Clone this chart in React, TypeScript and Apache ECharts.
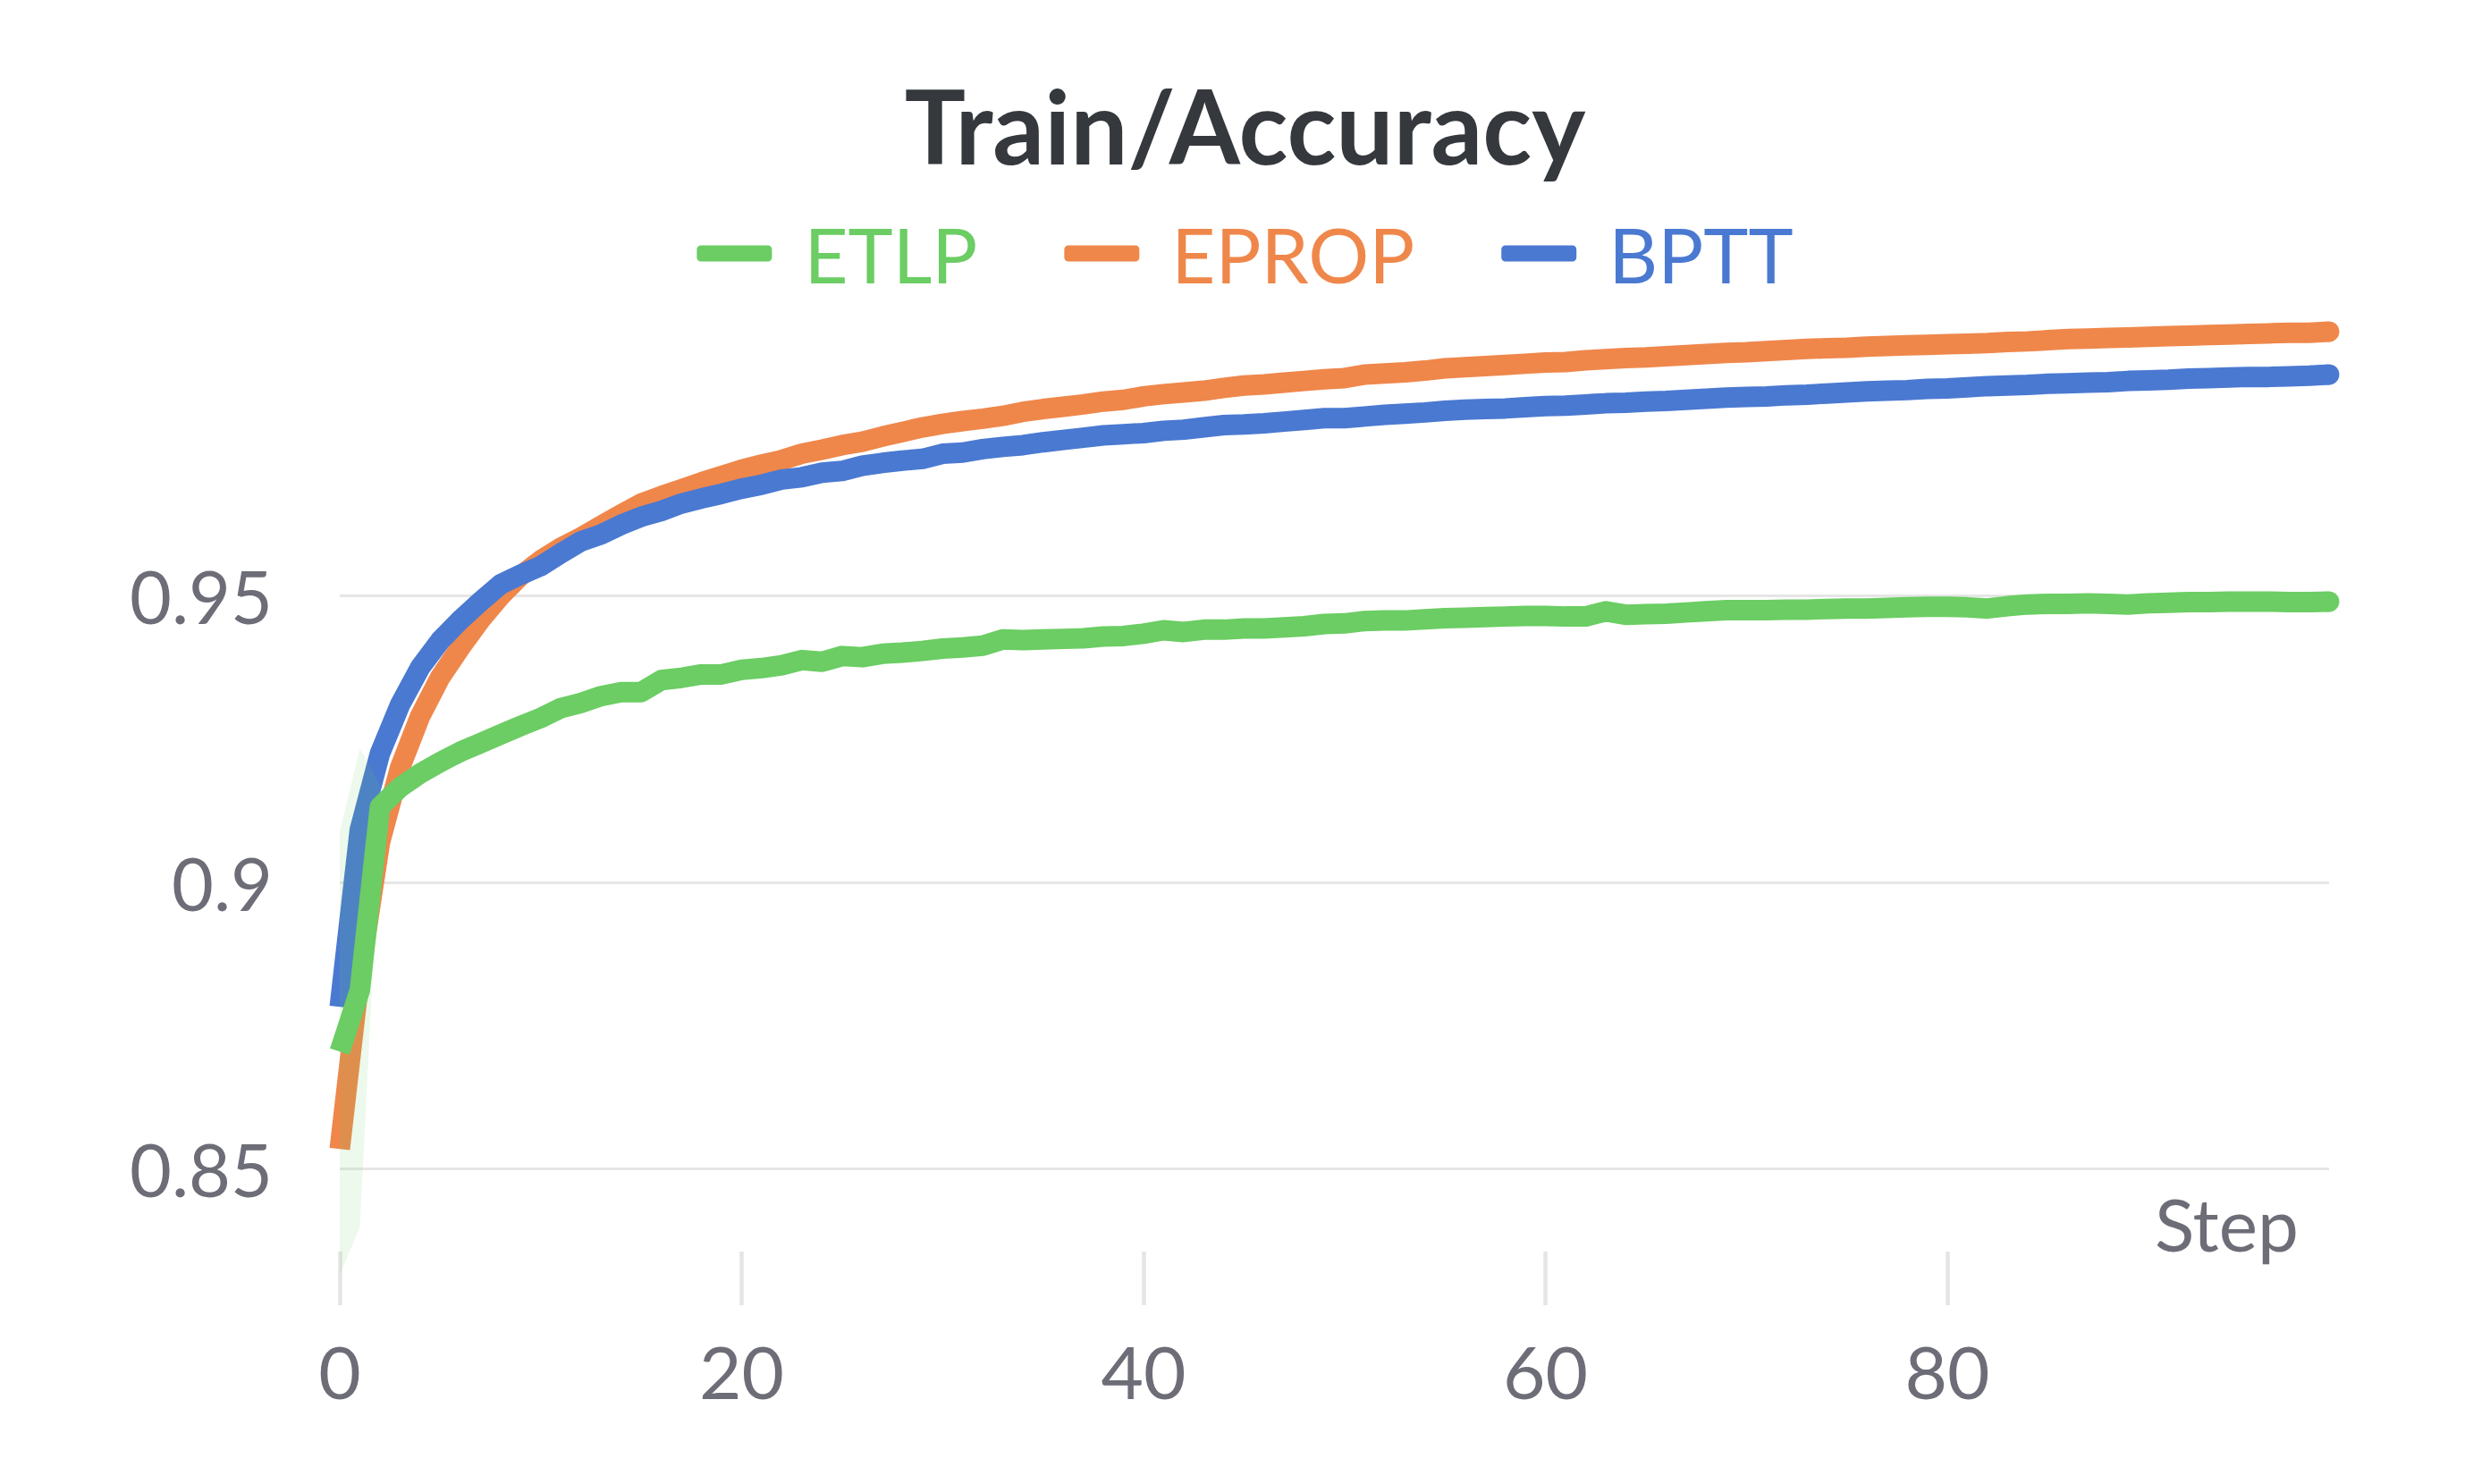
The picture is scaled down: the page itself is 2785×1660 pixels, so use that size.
import React, { useEffect, useRef } from "react";
import * as echarts from "echarts";

// ---------- data ----------
const STEPS: number[] = Array.from({ length: 100 }, (_, i) => i);

const ETLP: number[] = [
  0.8705, 0.8812, 0.9132, 0.9166, 0.919, 0.921, 0.9228, 0.9243, 0.9258, 0.9273,
  0.9287, 0.9304, 0.9313, 0.9325, 0.9332, 0.9332, 0.9353, 0.9357, 0.9363, 0.9363,
  0.9371, 0.9374, 0.9379, 0.9388, 0.9385, 0.9395, 0.9393, 0.9399, 0.9401, 0.9404,
  0.9408, 0.941, 0.9413, 0.9424, 0.9423, 0.9424, 0.9425, 0.9426, 0.9429, 0.943,
  0.9434, 0.944, 0.9437, 0.9441, 0.9441, 0.9443, 0.9443, 0.9445, 0.9447, 0.9451,
  0.9452, 0.9456, 0.9457, 0.9457, 0.9459, 0.9461, 0.9462, 0.9463, 0.9464, 0.9465,
  0.9465, 0.9464, 0.9464, 0.9473, 0.9467, 0.9468, 0.9469, 0.9471, 0.9473, 0.9475,
  0.9475, 0.9475, 0.9476, 0.9476, 0.9477, 0.9478, 0.9478, 0.9479, 0.948, 0.9481,
  0.9481, 0.948, 0.9478, 0.9482, 0.9485, 0.9486, 0.9486, 0.9487, 0.9486, 0.9485,
  0.9487, 0.9488, 0.9489, 0.9489, 0.949, 0.949, 0.949, 0.9489, 0.9489, 0.949,
];

const EPROP: number[] = [
  0.8535, 0.884, 0.907, 0.92, 0.929, 0.9358, 0.941, 0.9458, 0.95, 0.9535,
  0.9562, 0.9584, 0.9602, 0.9622, 0.9642, 0.9661, 0.9674, 0.9686, 0.9698, 0.9709,
  0.972, 0.9729, 0.9737, 0.9748, 0.9755, 0.9763, 0.9769, 0.9778, 0.9786, 0.9794,
  0.98, 0.9805, 0.9809, 0.9814, 0.9821, 0.9826, 0.983, 0.9834, 0.9839, 0.9842,
  0.9848, 0.9852, 0.9855, 0.9858, 0.9863, 0.9867, 0.9869, 0.9872, 0.9875, 0.9878,
  0.988, 0.9886, 0.9888, 0.989, 0.9893, 0.9897, 0.9899, 0.9901, 0.9903, 0.9905,
  0.9907, 0.9908, 0.9911, 0.9913, 0.9915, 0.9916, 0.9918, 0.992, 0.9922, 0.9924,
  0.9925, 0.9927, 0.9929, 0.9931, 0.9932, 0.9933, 0.9935, 0.9936, 0.9937, 0.9938,
  0.9939, 0.994, 0.9941, 0.9943, 0.9944, 0.9946, 0.9948, 0.9949, 0.995, 0.9951,
  0.9952, 0.9953, 0.9954, 0.9955, 0.9956, 0.9957, 0.9958, 0.9959, 0.9959, 0.9961,
];

const BPTT: number[] = [
  0.8783, 0.9092, 0.9225, 0.931, 0.9375, 0.9422, 0.9458, 0.949, 0.952, 0.9537,
  0.9552, 0.9574, 0.9595, 0.9607, 0.9624, 0.9638, 0.9648, 0.9661, 0.967, 0.9678,
  0.9687, 0.9694, 0.9703, 0.9707, 0.9715, 0.9718, 0.9727, 0.9732, 0.9736, 0.9739,
  0.9748, 0.975, 0.9756, 0.976, 0.9763, 0.9768, 0.9772, 0.9776, 0.978, 0.9782,
  0.9784, 0.9788, 0.979, 0.9794, 0.9798, 0.9799, 0.9801, 0.9804, 0.9807, 0.981,
  0.981, 0.9813, 0.9816, 0.9818, 0.982, 0.9823, 0.9825, 0.9826, 0.9827, 0.9829,
  0.9831, 0.9832, 0.9834, 0.9836, 0.9837, 0.9839, 0.984, 0.9842, 0.9844, 0.9846,
  0.9847, 0.9848, 0.985, 0.9851, 0.9853, 0.9855, 0.9857, 0.9858, 0.9859, 0.9861,
  0.9862, 0.9864, 0.9866, 0.9867, 0.9868, 0.987, 0.9871, 0.9872, 0.9873, 0.9875,
  0.9876, 0.9877, 0.9879, 0.988, 0.9881, 0.9882, 0.9882, 0.9883, 0.9884, 0.9886,
];

// min/max band of the ETLP run group (only visible over the first steps)
const ETLP_BAND_STEPS: number[] = [0, 1, 2];
const ETLP_BAND_LOW: number[] = [0.8316, 0.8398, 0.909];
const ETLP_BAND_HIGH: number[] = [0.9088, 0.9234, 0.917];

const X_TICKS: number[] = [0, 20, 40, 60, 80];
const Y_TICKS: number[] = [0.85, 0.9, 0.95];
const SERIES_NAMES: string[] = ["ETLP", "EPROP", "BPTT"];

const Y_MIN = 0.8356;
const Y_MAX = 0.9975;
const X_MIN = 0;
const X_MAX = 99;

// ---------- styles ----------
const COLORS: Record<string, string> = {
  ETLP: "#6bcd63",
  EPROP: "#ef874b",
  BPTT: "#4a79d1",
};
const BAND_FILL = "rgba(108,205,99,0.12)";
const FONT = "Lato, 'Noto Sans', 'DejaVu Sans', sans-serif";
const AXIS_GRAY = "#6d6d78";
const GRID_GRAY = "#e6e6e6";
const LINE_W = 23;

function lineSeries(name: string, values: number[], z: number) {
  const last = values.length - 1;
  return {
    name,
    type: "line",
    z,
    data: values.map((v, i) => [STEPS[i], v]),
    symbol: "circle",
    showSymbol: true,
    showAllSymbol: true,
    symbolSize: (_v: any, p: any) => (p.dataIndex === last ? LINE_W : 0),
    itemStyle: { color: COLORS[name], borderWidth: 0 },
    lineStyle: { width: LINE_W, color: COLORS[name], cap: "butt", join: "round" },
    emphasis: { disabled: true },
    silent: true,
    clip: false,
  };
}

function buildOption(): any {
  return {
    animation: false,
    backgroundColor: "#ffffff",
    title: {
      text: "Train/Accuracy",
      left: "center",
      top: 82,
      padding: 0,
      textStyle: {
        fontFamily: FONT,
        fontSize: 114,
        fontWeight: "bold",
        color: "#35383c",
        lineHeight: 114,
      },
    },
    legend: {
      data: SERIES_NAMES.map((n) => ({ name: n, textStyle: { color: COLORS[n] } })),
      top: 216,
      left: "center",
      icon: "roundRect",
      itemWidth: 84,
      itemHeight: 18,
      itemGap: 97,
      selectedMode: false,
      itemStyle: { borderWidth: 0 },
      textStyle: {
        fontFamily: FONT,
        fontSize: 85,
        lineHeight: 85,
        padding: [40, 0, 0, 31],
      },
    },
    grid: { left: 380, right: 180, top: 362, bottom: 260, containLabel: false },
    xAxis: {
      type: "value",
      min: X_MIN,
      max: X_MAX,
      axisLine: { show: false },
      axisTick: {
        show: true,
        customValues: X_TICKS,
        length: 60,
        lineStyle: { color: "#e5e5e5", width: 4.5 },
      },
      axisLabel: {
        customValues: X_TICKS,
        margin: 92,
        color: AXIS_GRAY,
        fontFamily: FONT,
        fontSize: 82,
        lineHeight: 82,
      },
      splitLine: { show: false },
      name: "Step",
      nameLocation: "end",
      nameGap: -34,
      nameTextStyle: {
        align: "right",
        verticalAlign: "bottom",
        color: AXIS_GRAY,
        fontFamily: FONT,
        fontSize: 82,
        lineHeight: 64,
      },
    },
    yAxis: {
      type: "value",
      min: Y_MIN,
      max: Y_MAX,
      axisLine: { show: false },
      axisTick: { show: false, customValues: Y_TICKS },
      axisLabel: {
        customValues: Y_TICKS,
        margin: 75,
        color: AXIS_GRAY,
        fontFamily: FONT,
        fontSize: 81,
        lineHeight: 81,
        formatter: (v: number) => String(v),
      },
      splitLine: { show: true, lineStyle: { color: GRID_GRAY, width: 3 } },
    },
    series: [
      lineSeries("EPROP", EPROP, 2),
      lineSeries("BPTT", BPTT, 3),
      {
        name: "ETLP band",
        type: "custom",
        z: 4,
        silent: true,
        clip: false,
        data: [[ETLP_BAND_STEPS[0], ETLP_BAND_LOW[0]]],
        encode: { x: 0, y: 1 },
        renderItem: (_params: any, api: any) => {
          const upper = ETLP_BAND_STEPS.map((s, i) => api.coord([s, ETLP_BAND_HIGH[i]]));
          const lower = ETLP_BAND_STEPS.map((s, i) => api.coord([s, ETLP_BAND_LOW[i]])).reverse();
          return {
            type: "polygon",
            shape: { points: upper.concat(lower) },
            style: { fill: BAND_FILL },
            silent: true,
          };
        },
      },
      lineSeries("ETLP", ETLP, 5),
    ],
  };
}

export default function App() {
  const ref = useRef<HTMLDivElement>(null);
  useEffect(() => {
    document.body.style.margin = "0";
    const chart = echarts.init(ref.current as HTMLDivElement, null, { renderer: "svg" });
    chart.setOption(buildOption());
    return () => chart.dispose();
  }, []);
  return <div ref={ref} style={{ width: 2785, height: 1660, background: "#ffffff" }} />;
}
